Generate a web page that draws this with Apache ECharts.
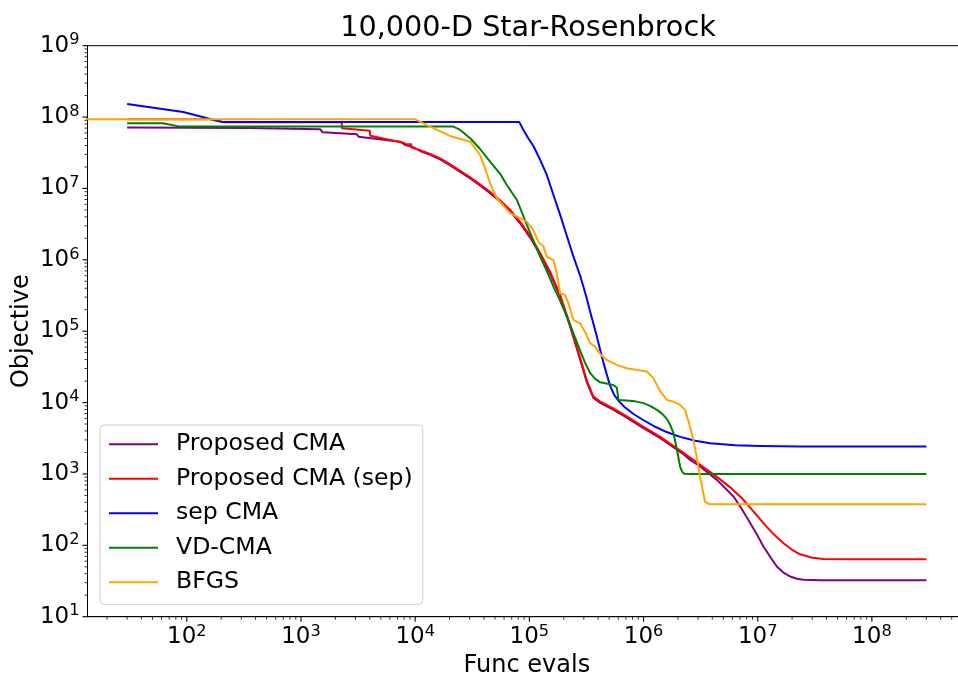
<!DOCTYPE html>
<html>
<head>
<meta charset="utf-8">
<title>10,000-D Star-Rosenbrock</title>
<script src="https://cdn.jsdelivr.net/npm/echarts@6/dist/echarts.min.js"></script>
<style>
  html, body { margin: 0; padding: 0; background: #ffffff; }
  #chart { width: 958px; height: 673px; }
</style>
</head>
<body>
<div id="chart"></div>
<script>
// ---- data: [function evaluations, objective value] ----
const seriesNames = ['Proposed CMA', 'Proposed CMA (sep)', 'sep CMA', 'VD-CMA', 'BFGS'];
const seriesColors = ['#800080', '#ff0000', '#0000ff', '#008000', '#ffa500'];

const proposedCma = [
  [30, 7.15e7], [358, 7.03e7], [1470, 6.75e7], [1550, 6.12e7], [3080, 5.74e7],
  [3190, 5.31e7], [7380, 4.52e7], [8170, 4.06e7], [9340, 3.85e7], [1.106e4, 3.35e7],
  [1.353e4, 2.95e7], [1.655e4, 2.55e7], [2.024e4, 2.1e7], [2.476e4, 1.7e7], [3.03e4, 1.38e7],
  [3.7e4, 1.1e7], [4.53e4, 8.6e6], [5.55e4, 6.5e6], [6.79e4, 4.8e6], [8.3e4, 3.25e6],
  [1.016e5, 2.05e6], [1.243e5, 1.18e6], [1.521e5, 6.4e5], [1.861e5, 3.05e5], [2.277e5, 1.16e5],
  [2.786e5, 4.0e4], [3.19e5, 1.92e4], [3.64e5, 1.16e4], [4.17e5, 9900], [5.42e5, 7950],
  [7.14e5, 6150], [9.34e5, 4680], [1.4e6, 3180], [2.24e6, 1890], [2.56e6, 1575],
  [3.13e6, 1270], [4.39e6, 826], [6.14e6, 483], [7.16e6, 333], [8.59e6, 205],
  [9.89e6, 140], [1.122e7, 96.2], [1.285e7, 69], [1.47e7, 50.5], [1.67e7, 41.9],
  [1.92e7, 36.6], [2.21e7, 34.0], [2.52e7, 32.9], [3.52e7, 32.4], [3e8, 32.4]
];

const proposedCmaSep = [
  [30, 9.3e7], [160, 9.3e7], [210, 8.45e7], [2270, 8.45e7], [2290, 6.97e7],
  [4000, 6.45e7], [4040, 5.49e7], [7880, 4.38e7], [8300, 4.16e7], [9200, 4.16e7],
  [9300, 3.73e7], [1.106e4, 3.44e7], [1.353e4, 3.04e7], [1.655e4, 2.63e7], [2.024e4, 2.17e7],
  [2.476e4, 1.76e7], [3.03e4, 1.43e7], [3.7e4, 1.14e7], [4.53e4, 8.93e6], [5.55e4, 6.79e6],
  [6.79e4, 5.0e6], [8.3e4, 3.4e6], [1.016e5, 2.16e6], [1.243e5, 1.25e6], [1.521e5, 6.78e5],
  [1.861e5, 3.22e5], [2.277e5, 1.22e5], [2.786e5, 4.23e4], [3.19e5, 2.01e4], [3.64e5, 1.21e4],
  [4.17e5, 1.03e4], [5.42e5, 8300], [7.14e5, 6410], [9.34e5, 4870], [1.4e6, 3310],
  [2.24e6, 1970], [3.13e6, 1340], [4.39e6, 910], [5.74e6, 649], [7.5e6, 434],
  [9.12e6, 301], [1.122e7, 205], [1.365e7, 145], [1.68e7, 107], [2.0e7, 86.5],
  [2.35e7, 74.8], [3.0e7, 66.8], [3.77e7, 64.3], [6.45e7, 63.7], [3e8, 63.7]
];

const sepCma = [
  [30, 1.52e8], [93, 1.18e8], [160, 9.4e7], [208, 8.5e7], [8.17e4, 8.5e7],
  [8.87e4, 6.6e7], [9.75e4, 5.09e7], [1.086e5, 3.94e7], [1.243e5, 2.51e7], [1.422e5, 1.545e7],
  [1.625e5, 8.11e6], [1.861e5, 4.26e6], [2.13e5, 2.16e6], [2.42e5, 1.135e6], [2.79e5, 5.94e5],
  [3.14e5, 3.12e5], [3.47e5, 1.69e5], [3.9e5, 8.4e4], [4.17e5, 5.47e4], [4.46e5, 3.6e4],
  [4.8e5, 2.37e4], [5.1e5, 1.71e4], [5.53e5, 1.28e4], [6.03e5, 1.06e4], [6.9e5, 8510],
  [8.16e5, 6920], [9.93e5, 5700], [1.222e6, 4700], [1.546e6, 3940], [2.09e6, 3310],
  [2.83e6, 2910], [3.83e6, 2690], [6.34e6, 2530], [1.05e7, 2470], [2.35e7, 2430], [3e8, 2420]
];

const vdCma = [
  [30, 8.2e7], [62, 8.2e7], [87, 7.35e7], [2.16e4, 7.35e7], [2.48e4, 6.61e7],
  [3.03e4, 5.05e7], [3.7e4, 3.57e7], [4.53e4, 2.37e7], [5.55e4, 1.6e7], [6.35e4, 1.12e7],
  [7.77e4, 6.9e6], [9.5e4, 3.08e6], [1.08e5, 1.9e6], [1.243e5, 1.11e6], [1.42e5, 7.0e5],
  [1.625e5, 4.22e5], [1.861e5, 2.66e5], [2.13e5, 1.6e5], [2.42e5, 9.46e4], [2.79e5, 5.3e4],
  [3.08e5, 3.6e4], [3.41e5, 2.58e4], [3.77e5, 2.15e4], [4.17e5, 1.92e4], [5.1e5, 1.8e4],
  [5.53e5, 1.74e4], [5.84e5, 1.61e4], [6.03e5, 1.09e4], [7.14e5, 1.07e4], [8.45e5, 1.04e4],
  [9.98e5, 9820], [1.14e6, 9000], [1.31e6, 7910], [1.456e6, 6950], [1.6e6, 5910],
  [1.71e6, 4880], [1.83e6, 3720], [1.96e6, 2180], [2.09e6, 1270], [2.18e6, 1070],
  [2.27e6, 1005], [2.56e6, 1000], [3e8, 1000]
];

const bfgs = [
  [1, 9.31e7], [1e4, 9.31e7], [1.35e4, 7.34e7], [2.02e4, 5.44e7], [3.03e4, 4.52e7],
  [3.7e4, 2.94e7], [3.95e4, 2.25e7], [4.53e4, 1.18e7], [5.18e4, 7.29e6], [6.78e4, 4.5e6],
  [9.49e4, 3.43e6], [1.08e5, 2.62e6], [1.2e5, 1.8e6], [1.33e5, 1.53e6], [1.42e5, 1.11e6],
  [1.62e5, 9.97e5], [1.74e5, 6.49e5], [1.86e5, 3.4e5], [2.05e5, 3.22e5], [2.2e5, 2.47e5],
  [2.43e5, 1.44e5], [2.78e5, 1.29e5], [3.07e5, 9.86e4], [3.4e5, 6.79e4], [3.77e5, 6.09e4],
  [4.16e5, 4.81e4], [4.76e5, 3.96e4], [5.82e5, 3.37e4], [7.13e5, 3.03e4], [9.32e5, 2.81e4],
  [1.07e6, 2.72e4], [1.22e6, 2.2e4], [1.4e6, 1.43e4], [1.6e6, 1.09e4], [1.83e6, 1.03e4],
  [2.09e6, 9290], [2.31e6, 7910], [2.55e6, 4610], [2.73e6, 3000], [2.92e6, 1750],
  [3.12e6, 920], [3.34e6, 538], [3.45e6, 410], [3.81e6, 375], [3e8, 375]
];

// ---- axes ----
const xAxisMin = 13.49, xAxisMax = 6.71e8;
const yAxisMin = 10, yAxisMax = 1e9;
const xMajorExponents = [2, 3, 4, 5, 6, 7, 8];
const yMajorExponents = [1, 2, 3, 4, 5, 6, 7, 8, 9];
const minorMultipliers = [2, 3, 4, 5, 6, 7, 8, 9];
const minorDecades = [1, 2, 3, 4, 5, 6, 7, 8];

const FONT = 'DejaVu Sans';
const MAJOR_LEN = 5, MINOR_LEN = 3;

// tick positions (value, tick length) for each axis
const xTicks = [], yTicks = [];
xMajorExponents.forEach(e => xTicks.push([Math.pow(10, e), yAxisMin, MAJOR_LEN]));
yMajorExponents.forEach(e => yTicks.push([xAxisMin, Math.pow(10, e), MAJOR_LEN]));
minorDecades.forEach(e => minorMultipliers.forEach(m => {
  const v = m * Math.pow(10, e);
  if (v > xAxisMin && v < xAxisMax) xTicks.push([v, yAxisMin, MINOR_LEN]);
  if (v > yAxisMin && v < yAxisMax) yTicks.push([xAxisMin, v, MINOR_LEN]);
}));

function powerLabel(v) {
  const lg = Math.log10(v);
  const e = Math.round(lg);
  if (Math.abs(lg - e) > 1e-6) return '';
  return '{b|10}{s|' + e + '}';
}
const labelRich = {
  b: { fontFamily: FONT, fontSize: 23, lineHeight: 27, color: '#000' },
  s: { fontFamily: FONT, fontSize: 16.2, lineHeight: 17, verticalAlign: 'top', color: '#000' }
};

const chart = echarts.init(document.getElementById('chart'), null, { renderer: 'canvas' });

const lineSeries = [proposedCma, proposedCmaSep, sepCma, vdCma, bfgs].map((d, i) => ({
  name: seriesNames[i],
  type: 'line',
  data: d,
  color: seriesColors[i],
  showSymbol: false,
  symbol: 'none',
  lineStyle: { width: 2, color: seriesColors[i], join: 'round' },
  itemStyle: { color: seriesColors[i] },
  clip: true,
  z: 2 + i
}));

function tickSeries(data, vertical) {
  return {
    type: 'custom',
    data: data,
    silent: true,
    clip: false,
    z: 10,
    renderItem: function (params, api) {
      const p = api.coord([api.value(0), api.value(1)]);
      const len = api.value(2);
      const w = len === MAJOR_LEN ? 1.1 : 0.8;
      const shape = vertical
        ? { x1: p[0], y1: p[1], x2: p[0], y2: p[1] + len }
        : { x1: p[0] - len, y1: p[1], x2: p[0], y2: p[1] };
      return { type: 'line', shape: shape, style: { stroke: '#000', lineWidth: w } };
    }
  };
}

chart.setOption({
  animation: false,
  backgroundColor: '#ffffff',
  title: {
    text: '10,000-D Star-Rosenbrock',
    left: 528,
    top: 12,
    textAlign: 'center',
    padding: 0,
    textStyle: { fontFamily: FONT, fontSize: 28.7, fontWeight: 'normal', color: '#000', lineHeight: 34 }
  },
  grid: {
    left: 87.5, top: 45.7, width: 878.8, height: 571,
    show: true, borderColor: '#000', borderWidth: 1, backgroundColor: 'transparent',
    containLabel: false, outerBoundsMode: 'none'
  },
  legend: {
    data: seriesNames,
    orient: 'vertical',
    left: 100,
    top: 425,
    icon: 'rect',
    itemWidth: 49,
    itemHeight: 2,
    itemGap: 9.5,
    padding: [6.8, 10, 9.5, 9],
    backgroundColor: 'rgba(255,255,255,0.8)',
    borderColor: '#cccccc',
    borderWidth: 1,
    borderRadius: 4,
    selectedMode: false,
    textStyle: { fontFamily: FONT, fontSize: 23.6, lineHeight: 25, color: '#000', padding: [0, 0, 0, 13] }
  },
  xAxis: {
    type: 'log',
    logBase: 10,
    min: xAxisMin,
    max: xAxisMax,
    name: 'Func evals',
    nameLocation: 'middle',
    nameGap: 35,
    nameMoveOverlap: false,
    nameTextStyle: { fontFamily: FONT, fontSize: 24, color: '#000', lineHeight: 28 },
    axisLine: { show: true, lineStyle: { color: '#000', width: 1 } },
    axisTick: { show: false },
    splitLine: { show: false },
    minorTick: { show: false },
    axisLabel: { show: true, margin: 7, formatter: powerLabel, rich: labelRich, showMinLabel: false, showMaxLabel: false, hideOverlap: false }
  },
  yAxis: {
    type: 'log',
    logBase: 10,
    min: yAxisMin,
    max: yAxisMax,
    name: 'Objective',
    nameLocation: 'middle',
    nameRotate: 90,
    nameGap: 52,
    nameMoveOverlap: false,
    nameTextStyle: { fontFamily: FONT, fontSize: 24, color: '#000', lineHeight: 28 },
    axisLine: { show: true, lineStyle: { color: '#000', width: 1 } },
    axisTick: { show: false },
    splitLine: { show: false },
    minorTick: { show: false },
    axisLabel: { show: true, margin: 8, formatter: powerLabel, rich: labelRich, hideOverlap: false }
  },
  series: lineSeries.concat([tickSeries(xTicks, true), tickSeries(yTicks, false)])
});
</script>
</body>
</html>
